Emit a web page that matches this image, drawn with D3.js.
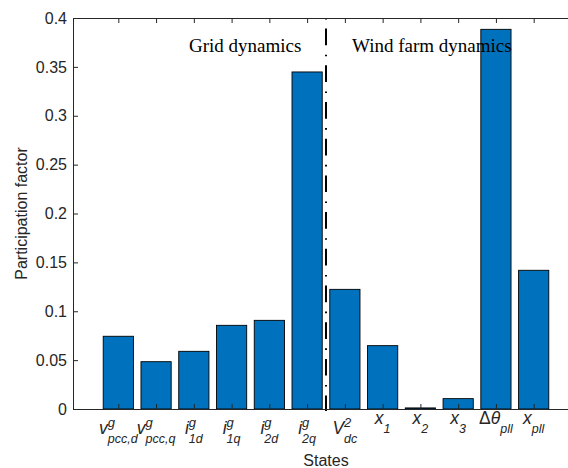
<!DOCTYPE html>
<html>
<head>
<meta charset="utf-8">
<script src="https://cdn.jsdelivr.net/npm/d3@7"></script>
<style>
  html, body { margin: 0; padding: 0; background: #fff; overflow: hidden; }
  svg { display: block; }
</style>
</head>
<body>
<svg id="chart" width="568" height="468"></svg>
<script>
// State labels: main symbol, superscript, subscript
const stateMain = ["v", "v", "i", "i", "i", "i", "V", "x", "x", "x", "Δθ", "x"];
const stateSup  = ["g", "g", "g", "g", "g", "g", "2", "", "", "", "", ""];
const stateSub  = ["pcc,d", "pcc,q", "1d", "1q", "2d", "2q", "dc", "1", "2", "3", "pll", "pll"];

// Participation factor of each state
const factors = [0.0744, 0.0484, 0.0590, 0.0856, 0.0907, 0.3448, 0.1224, 0.0648, 0.0011, 0.0106, 0.3884, 0.1419];

// Axis ticks
const yTicks = [0, 0.05, 0.1, 0.15, 0.2, 0.25, 0.3, 0.35, 0.4];
const yTickLabels = ["0", "0.05", "0.1", "0.15", "0.2", "0.25", "0.3", "0.35", "0.4"];

// Boundary between the two groups of states and their captions
const groupBoundary = [6.5];
const groupCaptions = ["Grid dynamics", "Wind farm dynamics"];

const svg = d3.select("#chart");
const axisColor = "#262626";
const sans = "'Liberation Sans', Arial, sans-serif";
const serif = "'Liberation Serif', 'Times New Roman', serif";

const x = d3.scaleLinear().domain([-0.2, 13.2]).range([73, 579]);
const y = d3.scaleLinear().domain([0, 0.4]).range([409, 18]);
const barWidth = 0.8;

const positions = factors.map((d, i) => i + 1);

// Bars
svg.append("g").selectAll("rect")
  .data(factors)
  .join("rect")
  .attr("x", (d, i) => x(positions[i] - barWidth / 2))
  .attr("width", x(barWidth) - x(0))
  .attr("y", d => y(d))
  .attr("height", d => y(0) - y(d))
  .attr("fill", "#0072BD")
  .attr("stroke", "#000")
  .attr("stroke-width", 0.9);

// Dash-dot divider between grid and wind farm states
svg.append("g").selectAll("line")
  .data(groupBoundary)
  .join("line")
  .attr("x1", d => x(d)).attr("x2", d => x(d))
  .attr("y1", y(0.4)).attr("y2", y(0) + 2)
  .attr("stroke", "#000")
  .attr("stroke-width", 2)
  .attr("stroke-dasharray", "1.6,9,16.7,9.4");

// Group captions
svg.append("text")
  .attr("x", 189).attr("y", 52)
  .attr("font-family", serif).attr("font-size", 19)
  .attr("fill", "#000")
  .text(groupCaptions[0]);
svg.append("text")
  .attr("x", 352).attr("y", 52)
  .attr("font-family", serif).attr("font-size", 19)
  .attr("fill", "#000")
  .text(groupCaptions[1]);

// Axes (ticks point inward)
const gLeft = svg.append("g").attr("transform", `translate(${x(-0.2)},0)`)
  .call(d3.axisLeft(y).tickValues(yTicks)
    .tickFormat((d, i) => yTickLabels[i])
    .tickSizeInner(-5).tickSizeOuter(0).tickPadding(6));
const gRight = svg.append("g").attr("transform", `translate(${x(13.2)},0)`)
  .call(d3.axisRight(y).tickValues(yTicks).tickFormat("")
    .tickSizeInner(-5).tickSizeOuter(0));
const gBottom = svg.append("g").attr("transform", `translate(0,${y(0)})`)
  .call(d3.axisBottom(x).tickValues(positions).tickFormat("")
    .tickSizeInner(-5).tickSizeOuter(0));
const gTop = svg.append("g").attr("transform", `translate(0,${y(0.4)})`)
  .call(d3.axisTop(x).tickValues(positions).tickFormat("")
    .tickSizeInner(-5).tickSizeOuter(0));

[gLeft, gRight, gBottom, gTop].forEach(g => {
  g.selectAll("path.domain").attr("stroke", axisColor).attr("stroke-width", 1);
  g.selectAll(".tick line").attr("stroke", axisColor).attr("stroke-width", 1);
  g.selectAll(".tick text")
    .attr("fill", axisColor)
    .attr("font-family", sans)
    .attr("font-size", 16);
});

// State tick labels with super- and subscripts
const mainSize = 17.5, scriptSize = 12.5;
positions.forEach((p, i) => {
  const hasSup = stateSup[i] !== "";
  const base = hasSup ? 434 : 424;
  const g = svg.append("g").attr("fill", axisColor).attr("font-family", sans);
  const main = g.append("text").attr("y", base).attr("font-size", mainSize);
  if (stateMain[i] === "Δθ") {
    main.append("tspan").text("Δ");
    main.append("tspan").attr("font-style", "italic").text("θ");
  } else {
    main.attr("font-style", "italic").text(stateMain[i]);
  }
  const mw = main.node().getComputedTextLength();
  let sw = 0, bw = 0;
  if (hasSup) {
    const sup = g.append("text").attr("x", mw).attr("y", base - 7)
      .attr("font-size", scriptSize + 0.5).attr("font-style", "italic").text(stateSup[i]);
    sw = sup.node().getComputedTextLength();
  }
  const sub = g.append("text").attr("x", mw).attr("y", base + 9)
    .attr("font-size", scriptSize).attr("font-style", "italic").text(stateSub[i]);
  bw = sub.node().getComputedTextLength();
  const total = mw + Math.max(sw, bw);
  g.attr("transform", `translate(${x(p) - total / 2},0)`);
});

// Axis titles
svg.append("text")
  .attr("x", x(6.5)).attr("y", 466)
  .attr("text-anchor", "middle")
  .attr("font-family", sans).attr("font-size", 16)
  .attr("fill", axisColor)
  .text("States");
svg.append("text")
  .attr("transform", `translate(27,${(y(0) + y(0.4)) / 2}) rotate(-90)`)
  .attr("text-anchor", "middle")
  .attr("font-family", sans).attr("font-size", 16)
  .attr("fill", axisColor)
  .text("Participation factor");
</script>
</body>
</html>
